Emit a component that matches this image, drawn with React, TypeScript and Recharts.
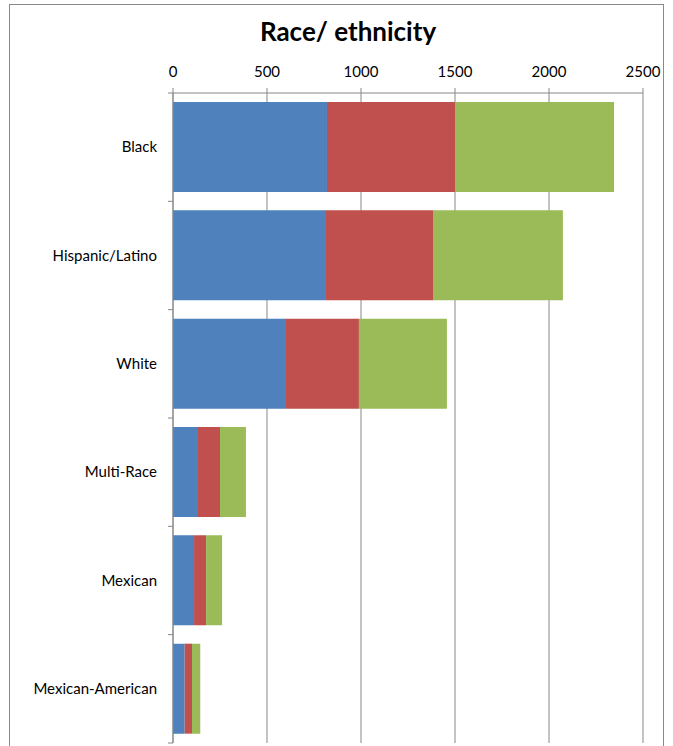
import { BarChart, Bar, XAxis, YAxis, CartesianGrid } from "recharts";

const categories = ["Black", "Hispanic/Latino", "White", "Multi-Race", "Mexican", "Mexican-American"];
const seriesA = [819, 809, 601, 133, 112, 62];
const seriesB = [681, 574, 388, 117, 64, 39];
const seriesC = [846, 691, 468, 138, 85, 44];
const xTicks = [0, 500, 1000, 1500, 2000, 2500];

const data = categories.map((name, i) => ({
  name,
  a: seriesA[i],
  b: seriesB[i],
  c: seriesC[i],
}));

const FONT = "Lato, 'Open Sans', sans-serif";
const GRID = "#878787";
const PLOT_TOP = 93;
const PLOT_H = 650;
const BAND = PLOT_H / categories.length;

function CategoryTick(props: any) {
  const { x, y, payload, index } = props;
  const axisX = x + 16;
  const isLast = index === categories.length - 1;
  return (
    <g>
      <line x1={axisX - 5} x2={axisX} y1={y - BAND / 2} y2={y - BAND / 2} stroke={GRID} />
      {isLast && <line x1={axisX - 5} x2={axisX} y1={y + BAND / 2} y2={y + BAND / 2} stroke={GRID} />}
      <text x={x} y={y} dy={5} textAnchor="end" fontSize={15} fill="#000" fontFamily={FONT}>
        {payload.value}
      </text>
    </g>
  );
}

export default function App() {
  return (
    <div style={{ position: "absolute", left: 0, top: 0, width: 673, height: 746, overflow: "hidden", background: "#fff" }}>
      <div
        style={{
          position: "absolute",
          left: 9,
          top: 4,
          width: 655,
          height: 800,
          border: "1px solid #8a8a8a",
          boxSizing: "border-box",
        }}
      />
      <div
        style={{
          position: "absolute",
          left: 148,
          width: 400,
          top: 15,
          textAlign: "center",
          fontFamily: FONT,
          fontWeight: 700,
          fontSize: 26,
          color: "#000",
        }}
      >
        Race/ ethnicity
      </div>
      <div style={{ position: "absolute", left: 0, top: 0 }}>
        <BarChart
          width={673}
          height={746}
          layout="vertical"
          data={data}
          barSize={90}
          margin={{ top: PLOT_TOP - 40, right: 30, bottom: 746 - PLOT_TOP - PLOT_H, left: 8 }}
        >
          <CartesianGrid horizontal={false} stroke={GRID} strokeWidth={1} />
          <XAxis
            type="number"
            orientation="top"
            domain={[0, 2500]}
            ticks={xTicks}
            height={40}
            interval={0}
            tickSize={5}
            tickMargin={11}
            axisLine={{ stroke: GRID }}
            tickLine={{ stroke: GRID }}
            tick={{ fontSize: 15, fill: "#000", fontFamily: FONT }}
          />
          <YAxis
            type="category"
            dataKey="name"
            width={165}
            interval={0}
            tickSize={0}
            tickMargin={16}
            tickLine={false}
            axisLine={{ stroke: GRID }}
            tick={<CategoryTick />}
          />
          <Bar dataKey="a" stackId="s" fill="#4F81BD" isAnimationActive={false} />
          <Bar dataKey="b" stackId="s" fill="#C0504D" isAnimationActive={false} />
          <Bar dataKey="c" stackId="s" fill="#9BBB59" isAnimationActive={false} />
        </BarChart>
      </div>
    </div>
  );
}
